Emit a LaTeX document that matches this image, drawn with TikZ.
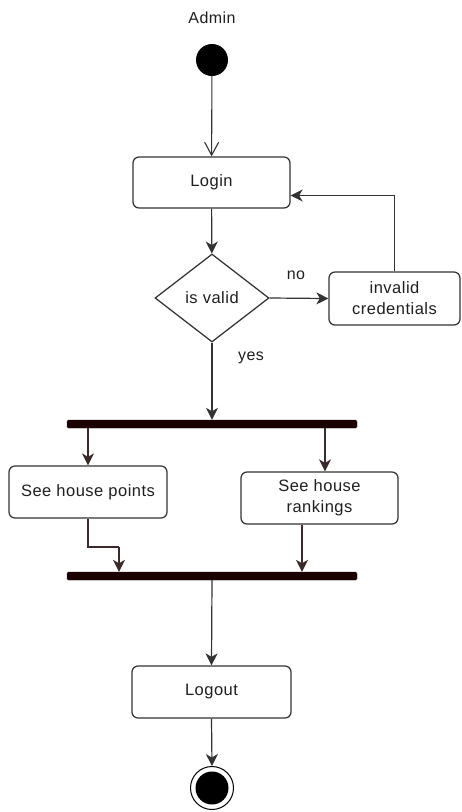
\documentclass[tikz,border=0pt]{standalone}
\usepackage{fontspec}
\setmainfont{Liberation Sans}[LetterSpace=3]
\usetikzlibrary{shapes.geometric,arrows.meta,calc}
\definecolor{edge}{HTML}{333333}
\definecolor{forkedge}{HTML}{3A2A2A}
\definecolor{barfill}{HTML}{1A0000}
\begin{document}
\begin{tikzpicture}[x=1pt,y=-1pt,
  every node/.style={font=\fontsize{16.5}{21}\selectfont, text=black!88},
  act/.style={draw=edge, line width=1.25pt, rounded corners=6pt, fill=white,
    align=center, inner sep=2pt},
  decision/.style={draw=edge, line width=1.25pt, diamond, fill=white,
    minimum width=114pt, minimum height=88pt, inner sep=0pt},
  forkbar/.style={fill=barfill, draw=barfill, rounded corners=1.5pt,
    minimum width=290pt, minimum height=8pt, inner sep=0pt},
  flow/.style={draw=edge, line width=1.2pt,
    -{Stealth[length=12pt,width=12pt,inset=3.5pt]}},
  forkflow/.style={flow, draw=forkedge},
  openflow/.style={draw=edge, line width=1.1pt,
    -{Straight Barb[length=13pt,width=14pt]}},
  lbl/.style={font=\fontsize{16}{19}\selectfont}
]
\useasboundingbox (0,0) rectangle (461,812);

% start and title
\node[lbl] (title) at (212,18) {Admin};
\node[circle, fill=black, minimum size=32pt, inner sep=0pt] (start) at (212,60) {};

% activities
\node[act, minimum width=157pt, minimum height=51pt] (login) at (211.5,182.5) {Login};
\node[decision] (valid) at (212,298) {is valid};
\node[act, minimum width=131pt, minimum height=53pt] (invalid) at (394.5,298.5) {invalid\\credentials};

\node[forkbar] (bar1) at (212,424) {};
\node[act, minimum width=158pt, minimum height=52pt] (points) at (88,492) {See house points};
\node[act, minimum width=157pt, minimum height=52pt] (rankings) at (319.5,498) {See house\\rankings};
\node[forkbar] (bar2) at (212,576) {};

\node[act, minimum width=159pt, minimum height=52pt] (logout) at (211.5,692) {Logout};

% end state
\node[circle, draw=black, line width=1pt, fill=white, minimum size=43pt, inner sep=0pt] (final) at (212,788) {};
\node[circle, fill=black, minimum size=33pt, inner sep=0pt] (finaldot) at (final) {};

% edge labels
\node[lbl] (nolbl) at (296,275) {no};
\node[lbl] (yeslbl) at (251,358) {yes};

% helper points on the loop-back and join paths
\coordinate (loginin) at ([yshift=-13pt]login.east);
\coordinate (knee) at (119,547);
\coordinate (rkin) at ([xshift=5.5pt]rankings.north);
\coordinate (rkout) at ([xshift=-17.5pt]rankings.south);

% connectors
\draw[openflow] (start) -- (login);
\draw[flow] (login) -- (valid);
\draw[flow] (valid.east) -- (invalid.west);
\draw[flow] (invalid.north) |- (loginin);
\draw[flow] (valid.south) -- (bar1.north);

\draw[forkflow] (bar1.south -| points.north) -- (points.north);
\draw[forkflow] (bar1.south -| rkin) -- (rkin);
\draw[forkedge, line width=1.2pt] (points.south) |- (knee);
\draw[forkflow] (knee) -- (knee |- bar2.north);
\draw[forkflow] (rkout) -- (rkout |- bar2.north);

\draw[flow] (bar2.south) -- (logout.north);
\draw[flow] (logout.south) -- (final.north);
\end{tikzpicture}
\end{document}
